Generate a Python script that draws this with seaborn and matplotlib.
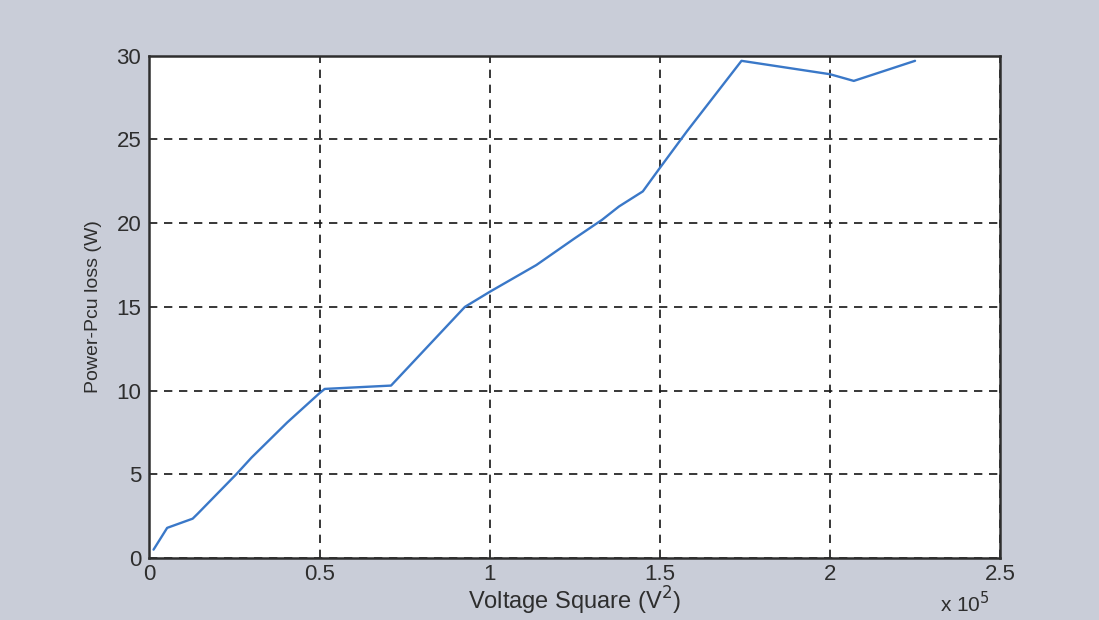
import matplotlib
matplotlib.use("Agg")
import matplotlib.pyplot as plt
import seaborn as sns
import pandas as pd

# Squared supply voltage (in units of 1e5 V^2) and measured copper loss (W)
voltage_sq = [0.012, 0.052, 0.127, 0.142, 0.255, 0.30, 0.405, 0.50, 0.515,
              0.71, 0.927, 1.0, 1.137, 1.25, 1.33, 1.38, 1.45, 1.50, 1.58,
              1.74, 2.0, 2.07, 2.25]
power_loss = [0.5, 1.8, 2.35, 2.65, 5.0, 6.0, 8.1, 9.85, 10.1,
              10.3, 15.0, 15.9, 17.5, 19.1, 20.2, 21.0, 21.9, 23.3, 25.5,
              29.7, 28.9, 28.5, 29.7]
x_ticks = [0, 0.5, 1, 1.5, 2, 2.5]
x_tick_labels = ["0", "0.5", "1", "1.5", "2", "2.5"]
y_ticks = [0, 5, 10, 15, 20, 25, 30]

df = pd.DataFrame({"v2": voltage_sq, "p": power_loss})

sns.set_theme(style="white")
plt.rcParams["font.family"] = ["Liberation Sans", "DejaVu Sans"]

bg = "#c9cdd8"
text_col = "#2e2e2e"
fig = plt.figure(figsize=(10.99, 6.2), dpi=100, facecolor=bg)
ax = fig.add_axes([0.136, 0.10, 0.774, 0.81])
ax.set_facecolor("white")

sns.lineplot(data=df, x="v2", y="p", sort=False, estimator=None,
             color="#3a78c8", linewidth=1.7, ax=ax)

ax.set_xlim(0, 2.5)
ax.set_ylim(0, 30)
ax.set_xticks(x_ticks)
ax.set_xticklabels(x_tick_labels)
ax.set_yticks(y_ticks)
ax.grid(True, color="#151515", linestyle=(0, (5, 4)), linewidth=1.2)
for s in ax.spines.values():
    s.set_color("#2e2e2e")
    s.set_linewidth(1.8)
ax.tick_params(axis="both", direction="in", length=5, color="#2e2e2e",
               labelsize=16, labelcolor=text_col)
ax.tick_params(axis="x", pad=4)
ax.tick_params(axis="y", pad=6)

ax.set_xlabel("Voltage Square (V$^2$)", fontsize=17, color=text_col, labelpad=0)
ax.set_ylabel("Power-Pcu loss (W)", fontsize=14, color=text_col, labelpad=10)
fig.text(0.855, 0.012, r"x 10$^5$", fontsize=15, color=text_col)

fig.savefig("out.png", dpi=100, facecolor=bg)
